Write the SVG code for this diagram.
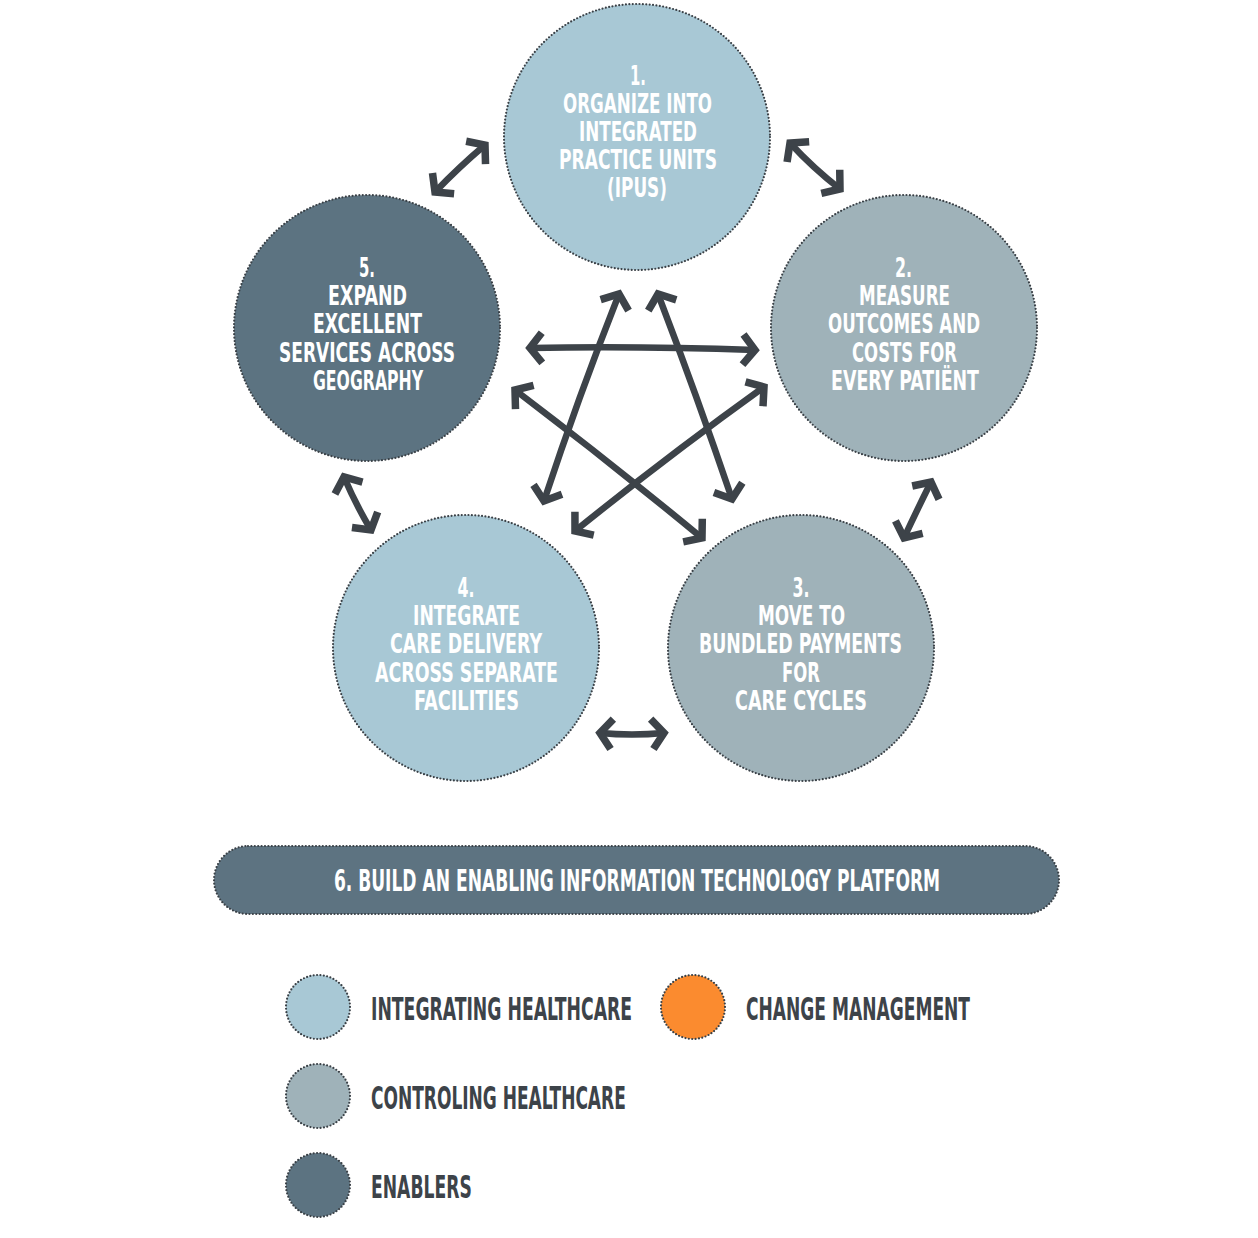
<svg xmlns="http://www.w3.org/2000/svg" width="1258" height="1238" viewBox="0 0 1258 1238">
<style>
.node{stroke:#3a4147;stroke-width:2.2;stroke-dasharray:0 3.4;stroke-linecap:round}
.light{fill:#a8c8d5}
.mid{fill:#9fb2b9}
.dark{fill:#5c7381}
.orange{fill:#fb8b2f}
.t{font-family:"Liberation Sans Narrow","DejaVu Sans Condensed","Liberation Sans",sans-serif;font-weight:bold;font-size:27px;fill:#ffffff;text-anchor:middle}
.bar{font-size:30px}
.lg{font-family:"Liberation Sans Narrow","DejaVu Sans Condensed","Liberation Sans",sans-serif;font-weight:bold;font-size:32px;fill:#3d4349}
.arr{fill:none;stroke:#3d4349;stroke-width:6.5;stroke-linecap:butt;marker-start:url(#ah);marker-end:url(#ah)}
</style>
<defs>
<marker id="ah" viewBox="-30 -25 40 50" markerWidth="40" markerHeight="50" refX="0" refY="0" orient="auto-start-reverse" markerUnits="userSpaceOnUse">
<path d="M-12,-15 L0,0 L-12,15" fill="none" stroke="#3d4349" stroke-width="7.5" stroke-linejoin="miter" stroke-linecap="butt"/>
</marker>
</defs>
<rect width="1258" height="1238" fill="#ffffff"/>

<g id="connectors">
<path class="arr" d="M435,192 Q459,167 485,145"/>
<path class="arr" d="M790,143 Q813,168 840,189"/>
<path class="arr" d="M344,477 Q356,505 371,530"/>
<path class="arr" d="M931,482 Q917,510 904,538"/>
<path class="arr" d="M600,733 Q632,736 664,733"/>
<path class="arr" d="M619,294 Q578,398 544,501"/>
<path class="arr" d="M658,294 Q697,396 732,499"/>
<path class="arr" d="M530,348 Q640,346 755,350"/>
<path class="arr" d="M515,390 Q610,462 702,538"/>
<path class="arr" d="M764,387 Q668,456 575,531"/>
</g>

<g id="node1">
<circle class="node light" cx="637" cy="137" r="133"/>
<text class="t" x="638" y="85" textLength="16" lengthAdjust="spacingAndGlyphs">1.</text>
<text class="t" x="637.5" y="113" textLength="149" lengthAdjust="spacingAndGlyphs">ORGANIZE INTO</text>
<text class="t" x="638" y="141" textLength="118" lengthAdjust="spacingAndGlyphs">INTEGRATED</text>
<text class="t" x="638" y="169" textLength="158" lengthAdjust="spacingAndGlyphs">PRACTICE UNITS</text>
<text class="t" x="637" y="197" textLength="60" lengthAdjust="spacingAndGlyphs">(IPUS)</text>
</g>

<g id="node2">
<circle class="node mid" cx="904" cy="328" r="133"/>
<text class="t" x="903.5" y="277" textLength="17" lengthAdjust="spacingAndGlyphs">2.</text>
<text class="t" x="904.5" y="305" textLength="91" lengthAdjust="spacingAndGlyphs">MEASURE</text>
<text class="t" x="904" y="333" textLength="152" lengthAdjust="spacingAndGlyphs">OUTCOMES AND</text>
<text class="t" x="904.5" y="362" textLength="105" lengthAdjust="spacingAndGlyphs">COSTS FOR</text>
<text class="t" x="905" y="390" textLength="148" lengthAdjust="spacingAndGlyphs">EVERY PATIËNT</text>
</g>

<g id="node3">
<circle class="node mid" cx="801" cy="648" r="133"/>
<text class="t" x="801" y="597" textLength="17" lengthAdjust="spacingAndGlyphs">3.</text>
<text class="t" x="801.5" y="625" textLength="87" lengthAdjust="spacingAndGlyphs">MOVE TO</text>
<text class="t" x="800.5" y="653" textLength="203" lengthAdjust="spacingAndGlyphs">BUNDLED PAYMENTS</text>
<text class="t" x="801" y="682" textLength="38" lengthAdjust="spacingAndGlyphs">FOR</text>
<text class="t" x="801" y="710" textLength="132" lengthAdjust="spacingAndGlyphs">CARE CYCLES</text>
</g>

<g id="node4">
<circle class="node light" cx="466" cy="648" r="133"/>
<text class="t" x="466" y="597" textLength="17" lengthAdjust="spacingAndGlyphs">4.</text>
<text class="t" x="466.5" y="625" textLength="107" lengthAdjust="spacingAndGlyphs">INTEGRATE</text>
<text class="t" x="466" y="653" textLength="152" lengthAdjust="spacingAndGlyphs">CARE DELIVERY</text>
<text class="t" x="466.5" y="682" textLength="183" lengthAdjust="spacingAndGlyphs">ACROSS SEPARATE</text>
<text class="t" x="466.5" y="710" textLength="105" lengthAdjust="spacingAndGlyphs">FACILITIES</text>
</g>

<g id="node5">
<circle class="node dark" cx="367" cy="328" r="133"/>
<text class="t" x="367" y="277" textLength="16" lengthAdjust="spacingAndGlyphs">5.</text>
<text class="t" x="367.5" y="305" textLength="79" lengthAdjust="spacingAndGlyphs">EXPAND</text>
<text class="t" x="367.5" y="333" textLength="109" lengthAdjust="spacingAndGlyphs">EXCELLENT</text>
<text class="t" x="367" y="362" textLength="176" lengthAdjust="spacingAndGlyphs">SERVICES ACROSS</text>
<text class="t" x="368" y="390" textLength="110" lengthAdjust="spacingAndGlyphs">GEOGRAPHY</text>
</g>

<g id="node6">
<rect class="node dark" x="214" y="846" width="845" height="68" rx="34" ry="34" style="fill:#5d7381"/>
<text class="t bar" transform="translate(637,891) scale(0.72,1)" x="0" y="0" textLength="842" lengthAdjust="spacingAndGlyphs">6. BUILD AN ENABLING INFORMATION TECHNOLOGY PLATFORM</text>
</g>

<g id="legend-integrating">
<circle class="node light" cx="318" cy="1007" r="32"/>
<text class="lg" transform="translate(371,1020) scale(0.7,1)" x="0" y="0" textLength="373" lengthAdjust="spacingAndGlyphs">INTEGRATING HEALTHCARE</text>
</g>
<g id="legend-change">
<circle class="node orange" cx="693" cy="1007" r="32"/>
<text class="lg" transform="translate(746,1020) scale(0.7,1)" x="0" y="0" textLength="320" lengthAdjust="spacingAndGlyphs">CHANGE MANAGEMENT</text>
</g>
<g id="legend-controling">
<circle class="node mid" cx="318" cy="1096" r="32"/>
<text class="lg" transform="translate(371,1109) scale(0.7,1)" x="0" y="0" textLength="364" lengthAdjust="spacingAndGlyphs">CONTROLING HEALTHCARE</text>
</g>
<g id="legend-enablers">
<circle class="node dark" cx="318" cy="1185" r="32"/>
<text class="lg" transform="translate(371,1198) scale(0.7,1)" x="0" y="0" textLength="144" lengthAdjust="spacingAndGlyphs">ENABLERS</text>
</g>
</svg>
